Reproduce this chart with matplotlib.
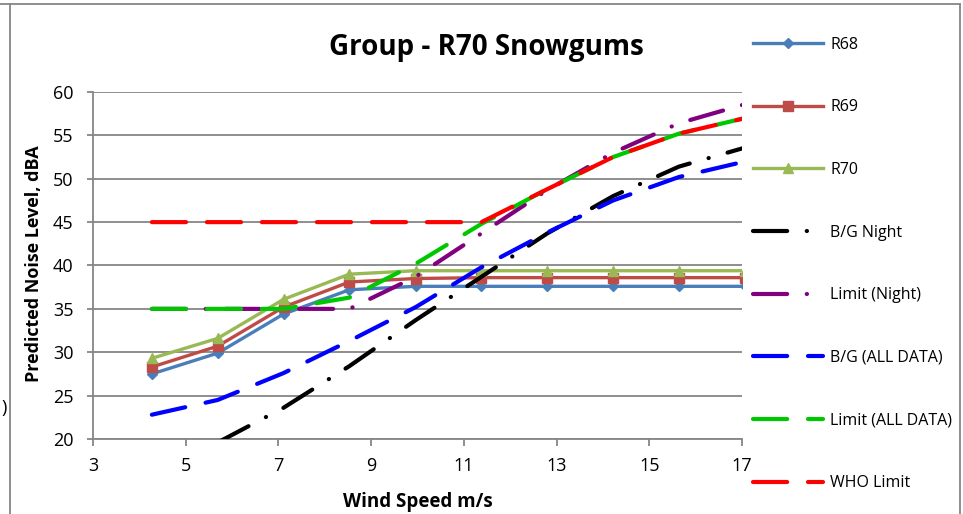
import matplotlib
matplotlib.use('Agg')
import matplotlib.pyplot as plt
from matplotlib.lines import Line2D
import numpy as np

plt.rcParams['font.family'] = ['Open Sans', 'DejaVu Sans']

# wind speed (m/s) at each predicted point
wind = [4.27, 5.69, 7.11, 8.53, 9.96, 11.38, 12.8, 14.22, 15.64, 17.07]

r68 = [27.5, 29.9, 34.4, 37.2, 37.6, 37.6, 37.6, 37.6, 37.6, 37.6]
r69 = [28.3, 30.7, 35.2, 38.1, 38.5, 38.6, 38.6, 38.6, 38.6, 38.6]
r70 = [29.3, 31.6, 36.1, 39.0, 39.4, 39.4, 39.4, 39.4, 39.4, 39.4]
bg_night = [16.0, 19.6, 23.6, 28.4, 33.7, 38.7, 43.7, 48.0, 51.4, 53.6]
limit_night = [35, 35, 35, 35, 38.7, 43.7, 48.7, 53.0, 56.4, 58.6]
bg_all = [22.8, 24.5, 27.6, 31.3, 35.2, 39.8, 43.8, 47.5, 50.2, 52.0]
limit_all = [35, 35, 35, 36.3, 40.2, 44.8, 48.8, 52.5, 55.2, 57.0]
who = [45, 45, 45, 45, 45, 45, 48.8, 52.5, 55.2, 57.0]

W, H = 963, 514
fig = plt.figure(figsize=(W / 100, H / 100), dpi=100)
ax = fig.add_axes([93 / W, 1 - 439 / H, (742 - 93) / W, (439 - 92) / H])

grey = '#868686'
long_dash = (0, (8.2, 5.0))
long_dash_dot = (0, (8.2, 4.7, 0.05, 4.7))

# station curves
ax.plot(wind, r68, color='#4A7EBB', lw=2.4, marker='D', ms=5, mec='#4A7EBB', label='R68', zorder=3)
ax.plot(wind, r69, color='#BE4B48', lw=2.4, marker='s', ms=6.5, mec='#BE4B48', label='R69', zorder=4)
ax.plot(wind, r70, color='#98B954', lw=2.4, marker='^', ms=7.5, mec='#98B954', label='R70', zorder=5)

# background and limit curves
ax.plot(wind, bg_night, color='black', lw=3, ls=long_dash_dot, dash_capstyle='round', label='B/G Night', zorder=6)
ax.plot(wind, limit_night, color='#800080', lw=3, ls=long_dash_dot, dash_capstyle='round', label='Limit (Night)', zorder=7)
ax.plot(wind, bg_all, color='#0000FF', lw=3, ls=long_dash, dash_capstyle='round', label='B/G (ALL DATA)', zorder=8)
ax.plot(wind, limit_all, color='#00C800', lw=3, ls=long_dash, dash_capstyle='round', label='Limit (ALL DATA)', zorder=9)
ax.plot(wind, who, color='#FF0000', lw=3, ls=long_dash, dash_capstyle='round', label='WHO Limit', zorder=10)

ax.set_xlim(3, 17)
ax.set_ylim(20, 60)
ax.set_xticks(np.arange(3, 18, 2))
ax.set_yticks(np.arange(20, 61, 5))
ax.yaxis.grid(True, color=grey, lw=1.3)
ax.set_axisbelow(True)
for s in ['top', 'right']:
    ax.spines[s].set_visible(False)
for s in ['left', 'bottom']:
    ax.spines[s].set_color(grey)
    ax.spines[s].set_linewidth(1.3)
ax.tick_params(axis='y', direction='out', length=4.5, width=1.3, color=grey, pad=9.5, labelsize=13)
ax.tick_params(axis='x', direction='out', length=5, width=1.3, color=grey, pad=8, labelsize=13)

fig.text(486 / W, 1 - 55 / H, 'Group - R70 Snowgums', ha='center', va='baseline',
         fontsize=20, fontweight='bold')
fig.text(417.5 / W, 1 - 507 / H, 'Wind Speed m/s', ha='center', va='baseline',
         fontsize=13.5, fontweight='bold')
fig.text(34 / W, 1 - 264 / H, 'Predicted Noise Level, dBA', ha='center', va='center',
         rotation=90, fontsize=13, fontweight='bold')
fig.text(1 / W, 1 - 408 / H, ')', ha='left', va='center', fontsize=13)

ax.legend(loc='center left', bbox_to_anchor=(753 / W, 1 - 264 / H), bbox_transform=fig.transFigure,
          frameon=False, fontsize=11.5, handlelength=4.4, handletextpad=0.45,
          labelspacing=2.92, borderpad=0, borderaxespad=0)

# outer chart frame
fig.add_artist(Line2D([0, 960 / W], [1 - 4 / H, 1 - 4 / H], transform=fig.transFigure, color=grey, lw=1.3))
fig.add_artist(Line2D([10 / W, 10 / W], [0, 1 - 4 / H], transform=fig.transFigure, color=grey, lw=1.3))
fig.add_artist(Line2D([960 / W, 960 / W], [0, 1 - 4 / H], transform=fig.transFigure, color=grey, lw=1.3))

fig.savefig('out.png', dpi=100)
